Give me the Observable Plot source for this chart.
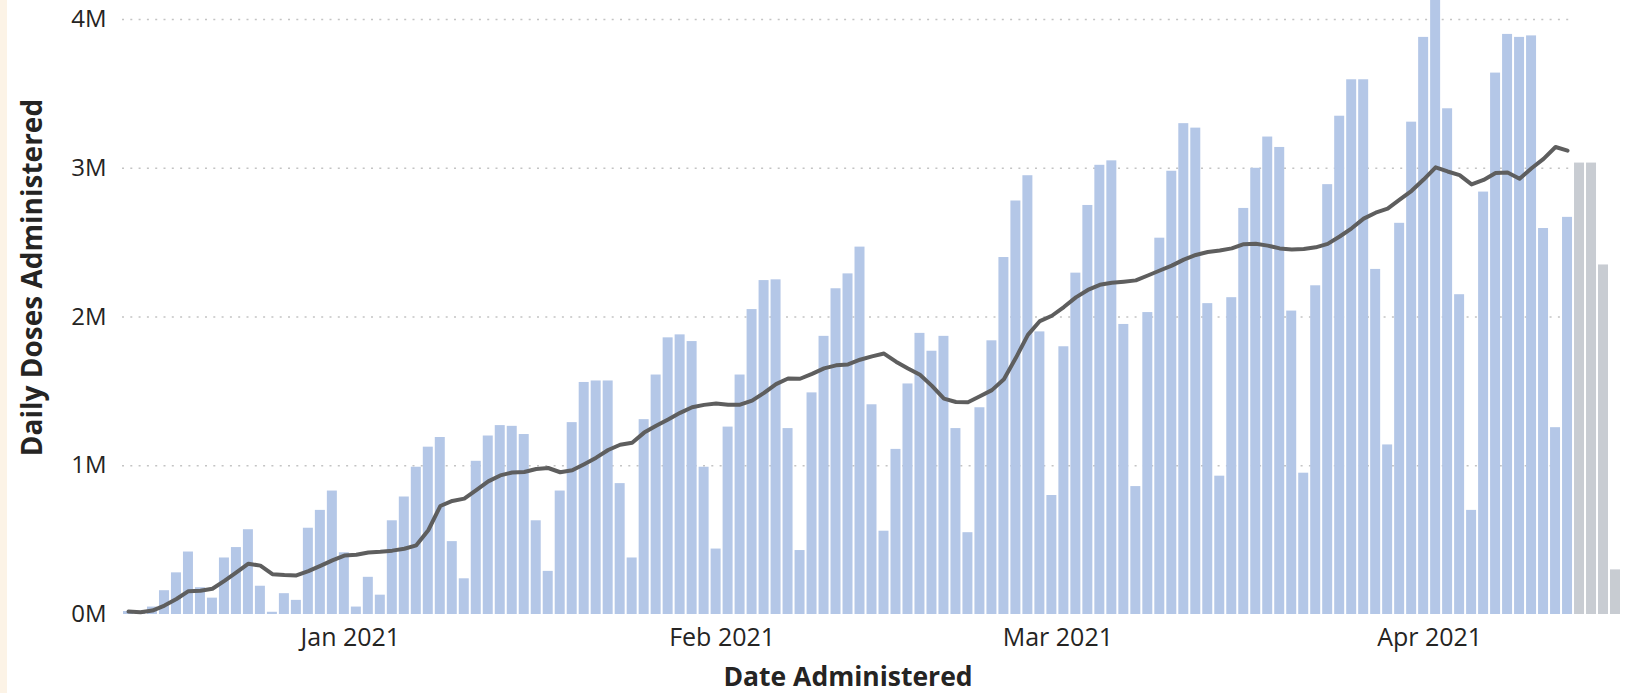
<!DOCTYPE html>
<html>
<head>
<meta charset="utf-8">
<script src="https://cdn.jsdelivr.net/npm/d3@7"></script>
<script src="https://cdn.jsdelivr.net/npm/@observablehq/plot@0.6"></script>
<style>
html, body { margin: 0; padding: 0; background: #ffffff; }
#wrap { position: relative; width: 1626px; height: 693px; overflow: hidden; background: #ffffff; }
#strip { position: absolute; left: 0; top: 0; width: 7px; height: 693px; background: #FCF3E6; }
#wrap svg { position: absolute; left: 0; top: 0; }
</style>
</head>
<body>
<div id="wrap"><div id="strip"></div></div>
<script>
// First day shown on the chart
const startDate = "2020-12-13";

// Daily doses administered (millions), reported days
const dosesAdministered = [
  0.02, 0.01, 0.05, 0.16, 0.28, 0.42, 0.18, 0.11, 0.38, 0.45,
  0.57, 0.19, 0.015, 0.14, 0.095, 0.58, 0.70, 0.83, 0.415, 0.05,
  0.25, 0.13, 0.63, 0.79, 0.99, 1.125, 1.19, 0.49, 0.24, 1.03,
  1.20, 1.27, 1.265, 1.21, 0.63, 0.29, 0.83, 1.29, 1.56, 1.57,
  1.57, 0.88, 0.38, 1.31, 1.61, 1.86, 1.88, 1.835, 0.99, 0.44,
  1.26, 1.61, 2.05, 2.245, 2.25, 1.25, 0.43, 1.49, 1.87, 2.19,
  2.29, 2.47, 1.41, 0.56, 1.11, 1.55, 1.89, 1.77, 1.87, 1.25,
  0.55, 1.39, 1.84, 2.40, 2.78, 2.95, 1.90, 0.80, 1.80, 2.295,
  2.75, 3.02, 3.05, 1.95, 0.86, 2.03, 2.53, 2.98, 3.30, 3.27,
  2.09, 0.93, 2.13, 2.73, 3.00, 3.21, 3.14, 2.04, 0.95, 2.21,
  2.89, 3.35, 3.595, 3.595, 2.32, 1.14, 2.63, 3.31, 3.88, 4.17,
  3.40, 2.15, 0.70, 2.84, 3.64, 3.90, 3.88, 3.89, 2.595, 1.256,
  2.67
];

// Most recent days, still being reported (millions)
const dosesPending = [3.035, 3.035, 2.35, 0.30];

// Axis ticks
const monthTicks = ["2021-01-01", "2021-02-01", "2021-03-01", "2021-04-01"];
const yTicks = [0, 1, 2, 3, 4];

const xTitle = "Date Administered";
const yTitle = "Daily Doses Administered";

const day0 = new Date(startDate + "T00:00:00Z");
const reported = dosesAdministered.map((v, i) => ({ date: d3.utcDay.offset(day0, i), value: v }));
const pending = dosesPending.map((v, i) => ({ date: d3.utcDay.offset(day0, dosesAdministered.length + i), value: v }));
const endDate = d3.utcDay.offset(day0, dosesAdministered.length + dosesPending.length);
const gridEnd = d3.utcDay.offset(day0, dosesAdministered.length);
const nextDay = d => d3.utcDay.offset(d.date, 1);

const chart = Plot.plot({
  width: 1626,
  height: 693,
  marginLeft: 122,
  marginRight: 5,
  marginTop: 0,
  marginBottom: 79,
  style: { background: "transparent", fontFamily: "'Open Sans', sans-serif", overflow: "visible" },
  x: { type: "utc", domain: [day0, endDate], label: null },
  y: { domain: [0, 4.128], label: null },
  marks: [
    Plot.ruleY(yTicks.filter(t => t > 0), {
      x1: () => day0, x2: () => gridEnd,
      stroke: "#c4c4c4", strokeWidth: 1.6, strokeDasharray: "2,6.3"
    }),
    Plot.rectY(reported, { x1: "date", x2: nextDay, y: "value", fill: "#B4C7E7", insetLeft: 1, insetRight: 1 }),
    Plot.rectY(pending, { x1: "date", x2: nextDay, y: "value", fill: "#C8CCD2", insetLeft: 1, insetRight: 1 }),
    Plot.lineY(reported, Plot.windowY(
      { k: 7, anchor: "end", reduce: "mean", strict: false },
      { x: d => d3.utcHour.offset(d.date, 12), y: "value", stroke: "#5E5E5E", strokeWidth: 4, strokeLinejoin: "round", strokeLinecap: "round" }
    )),
    Plot.axisY({
      ticks: yTicks, tickSize: 0, tickPadding: 16, tickFormat: d => d + "M",
      fontSize: 24, color: "#252423", label: null
    }),
    Plot.axisX({
      ticks: monthTicks.map(s => new Date(s + "T00:00:00Z")), tickSize: 0, tickPadding: 14,
      tickFormat: d3.utcFormat("%b %Y"), fontSize: 25, color: "#252423", label: null
    }),
    Plot.text([xTitle], {
      text: d => d, frameAnchor: "bottom", textAnchor: "middle", dx: -24, dy: 71, lineAnchor: "bottom",
      fontSize: 26.5, fontWeight: 700, fill: "#252423"
    }),
    Plot.text([yTitle], {
      text: d => d, frameAnchor: "left", textAnchor: "middle", rotate: -90, dx: -81, dy: -30, lineAnchor: "bottom",
      fontSize: 28, fontWeight: 700, fill: "#252423"
    })
  ]
});

document.getElementById("wrap").appendChild(chart);
</script>
</body>
</html>
